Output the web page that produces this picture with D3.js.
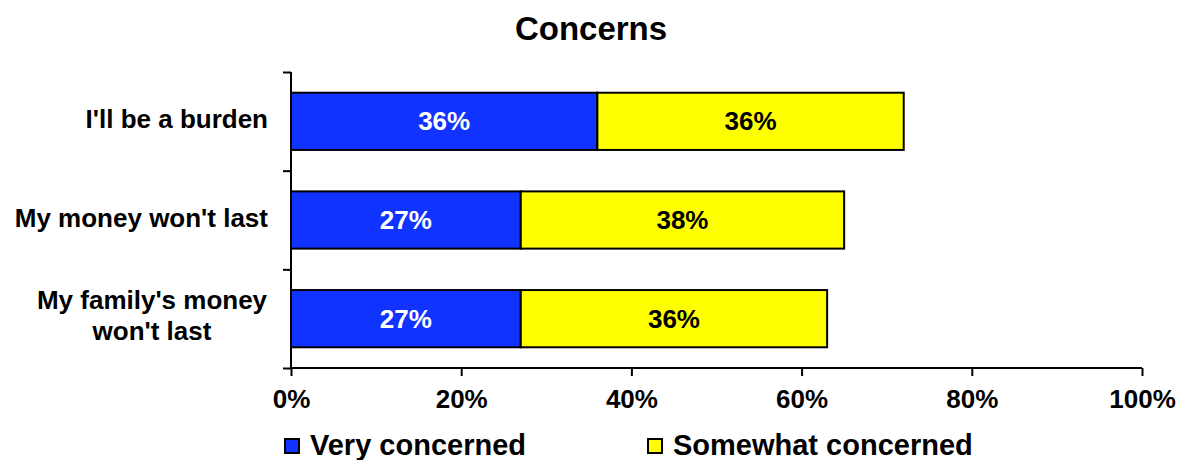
<!DOCTYPE html>
<html>
<head>
<meta charset="utf-8">
<script src="https://cdn.jsdelivr.net/npm/d3@7"></script>
<style>
  html, body { margin: 0; padding: 0; background: #fff; }
  svg text { font-family: "Liberation Sans", Arial, sans-serif; font-weight: bold; }
</style>
</head>
<body>
<svg id="chart" width="1187" height="460"></svg>
<script>
const categories = [["I'll be a burden"], ["My money won't last"], ["My family's money", "won't last"]];
const seriesNames = ["Very concerned", "Somewhat concerned"];
const veryConcerned = [36, 27, 27];
const somewhatConcerned = [36, 38, 36];
const xTicks = [0, 20, 40, 60, 80, 100];
const colors = ["#1133FF", "#FFFF00"];
const labelColors = ["#FFFFFF", "#000000"];

const svg = d3.select("#chart");

const x = d3.scaleLinear().domain([0, 100]).range([291, 1142]);
const y = d3.scaleBand().domain(d3.range(categories.length)).range([72, 368]).paddingInner(0.42).paddingOuter(0.21);

// title
svg.append("text").attr("x", 591).attr("y", 40).attr("text-anchor", "middle")
  .style("font-size", "33px").text("Concerns");

// bars
const stacks = categories.map((c, i) => {
  const a = veryConcerned[i], b = somewhatConcerned[i];
  return [{ s: 0, x0: 0, x1: a, v: a, i }, { s: 1, x0: a, x1: a + b, v: b, i }];
}).flat();

const g = svg.append("g");
g.selectAll("rect.bar").data(stacks).enter().append("rect")
  .attr("x", d => x(d.x0)).attr("y", d => y(d.i))
  .attr("width", d => x(d.x1) - x(d.x0)).attr("height", y.bandwidth())
  .attr("fill", d => colors[d.s]).attr("stroke", "#000").attr("stroke-width", 2);

g.selectAll("text.val").data(stacks).enter().append("text")
  .attr("x", d => x((d.x0 + d.x1) / 2)).attr("y", d => y(d.i) + y.bandwidth() / 2 + 9)
  .attr("text-anchor", "middle").attr("fill", d => labelColors[d.s])
  .style("font-size", "26px").text(d => d.v + "%");

// y axis
const yAxis = d3.axisLeft(d3.scaleLinear().domain([0, categories.length]).range([72, 368]))
  .tickValues(d3.range(categories.length + 1)).tickSize(8).tickFormat("");
const ya = svg.append("g").attr("transform", "translate(291,0)").call(yAxis);
ya.select(".domain").attr("stroke", "#000").attr("stroke-width", 2).attr("d", "M0,72V368");
ya.selectAll(".tick line").attr("stroke", "#000").attr("stroke-width", 2);

// category labels
categories.forEach((lines, i) => {
  const cy = y(i) + y.bandwidth() / 2;
  if (lines.length === 1) {
    svg.append("text").attr("x", 268).attr("y", cy + 7).attr("text-anchor", "end")
      .style("font-size", "26px").text(lines[0]);
  } else {
    lines.forEach((ln, k) => {
      svg.append("text").attr("x", 152).attr("y", cy - 10 + k * 31).attr("text-anchor", "middle")
        .style("font-size", "26px").text(ln);
    });
  }
});

// x axis
const xAxis = d3.axisBottom(x).tickValues(xTicks).tickSize(8).tickFormat(d => d + "%").tickPadding(14);
const xa = svg.append("g").attr("transform", "translate(0,368)").call(xAxis);
xa.select(".domain").attr("stroke", "#000").attr("stroke-width", 2).attr("d", "M291,0H1142");
xa.selectAll(".tick line").attr("stroke", "#000").attr("stroke-width", 2);
xa.selectAll(".tick text").attr("fill", "#000").style("font-size", "26px")
  .style("font-family", "'Liberation Sans', Arial, sans-serif").style("font-weight", "bold");

// legend
const legendX = [285, 648];
seriesNames.forEach((n, i) => {
  svg.append("rect").attr("x", legendX[i]).attr("y", 439).attr("width", 14).attr("height", 14)
    .attr("fill", colors[i]).attr("stroke", "#000").attr("stroke-width", 2);
  svg.append("text").attr("x", legendX[i] + 25).attr("y", 455).style("font-size", "29px").text(n);
});
</script>
</body>
</html>
